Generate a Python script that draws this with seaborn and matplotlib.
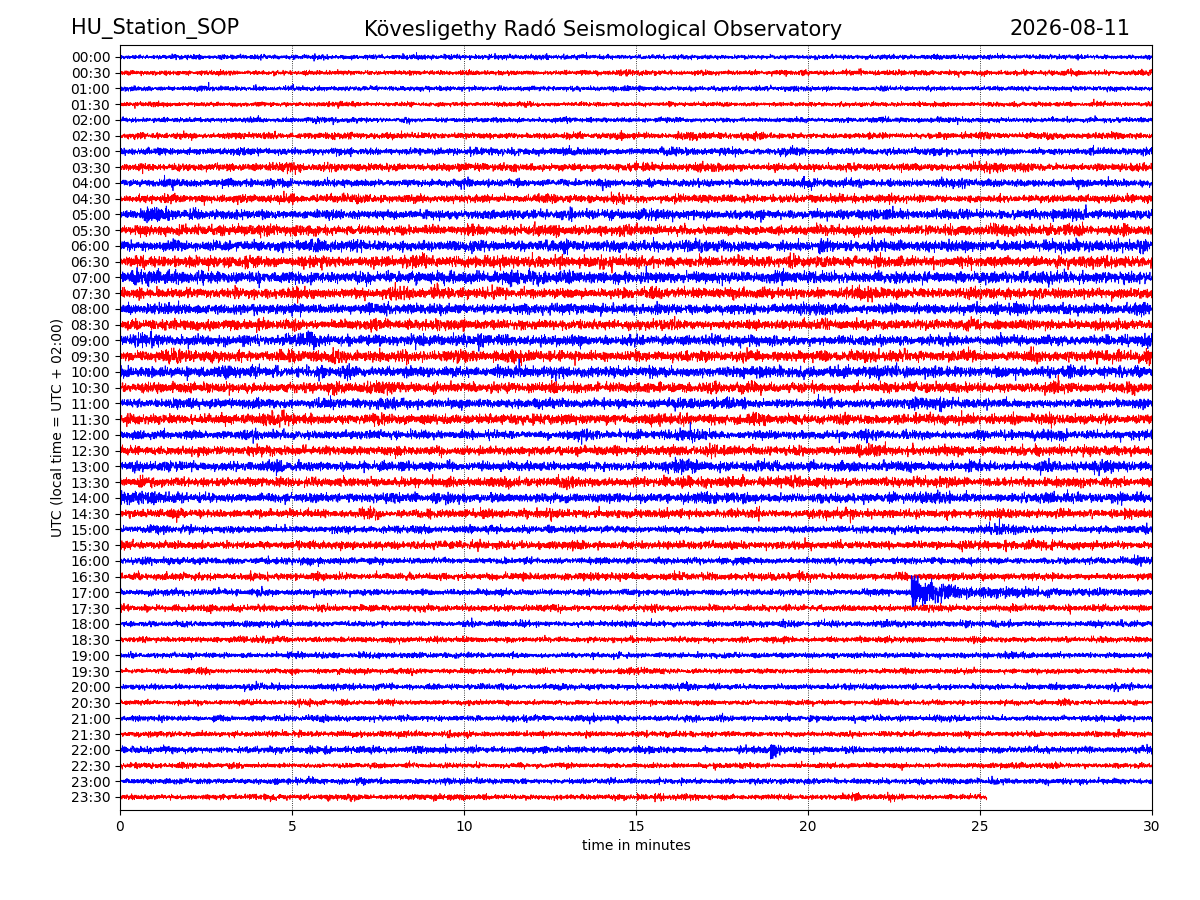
import numpy as np
import pandas as pd
import matplotlib
matplotlib.use("Agg")
import matplotlib.pyplot as plt
import seaborn as sns

# half-hour rows of the helicorder, top to bottom
row_labels = ["%02d:%02d" % (h, m) for h in range(24) for m in (0, 30)]

# typical peak amplitude per row, in units of the row spacing
row_amp = [0.12, 0.12, 0.12, 0.11, 0.12, 0.15, 0.17, 0.19, 0.19, 0.21,
           0.24, 0.26, 0.28, 0.28, 0.30, 0.28, 0.27, 0.26, 0.27, 0.28,
           0.28, 0.26, 0.24, 0.26, 0.22, 0.24, 0.24, 0.24, 0.24, 0.22,
           0.18, 0.20, 0.16, 0.18, 0.16, 0.16, 0.15, 0.14, 0.14, 0.13,
           0.14, 0.13, 0.14, 0.14, 0.16, 0.13, 0.14, 0.14]

# bursts / events: row index, start minute, peak amplitude, decay (minutes)
burst_row = [34, 34, 34, 44, 6, 6, 26, 26, 12, 18, 14, 28, 19, 30, 47, 10]
burst_start = [23.0, 23.0, 23.0, 18.9, 16.0, 23.4, 16.1, 26.7, 20.3, 10.4, 0.3, 0.0, 29.6, 29.7, 22.3, 0.7]
burst_amp = [1.6, 0.8, 0.4, 0.7, 0.2, 0.22, 0.3, 0.3, 0.35, 0.35, 0.35, 0.35, 0.4, 0.3, 0.2, 0.3]
burst_decay = [0.05, 0.5, 2.5, 0.15, 0.4, 0.4, 0.5, 0.4, 0.2, 0.2, 0.8, 0.8, 0.3, 0.2, 0.2, 0.5]

last_row_end = 25.2  # minutes recorded in the final row
row_colors = ["#0000ff", "#ff0000"]

n_pts = 6000
minutes = np.linspace(0, 30, n_pts)
rng = np.random.default_rng(11)  # texture of the wiggles only

frames = []
for i, label in enumerate(row_labels):
    carrier = rng.standard_normal(n_pts)
    slow = np.convolve(rng.standard_normal(n_pts), np.ones(120) / 120, mode="same")
    env = row_amp[i] / 1.9 * (0.8 + 3.0 * np.abs(slow))
    for r, s, a, d in zip(burst_row, burst_start, burst_amp, burst_decay):
        if r == i:
            t = minutes - s
            env = env + np.where(t >= 0, a / 2.5 * np.exp(-np.clip(t, 0, None) / d), 0)
    trace = np.clip(carrier * env, -1.05, 1.05)
    m = minutes
    if i == len(row_labels) - 1:
        keep = minutes <= last_row_end
        m = minutes[keep]
        trace = trace[keep]
    frames.append(pd.DataFrame({"minute": m, "y": i - trace, "row": i}))

df = pd.concat(frames, ignore_index=True)

sns.set_style("ticks", {"axes.edgecolor": "black", "xtick.color": "black",
                        "ytick.color": "black", "text.color": "black",
                        "axes.labelcolor": "black"})
plt.rcParams["font.family"] = ["DejaVu Sans"]

fig = plt.figure(figsize=(12, 9), dpi=100)
ax = fig.add_axes([0.1, 0.1, 0.86, 0.85])

palette = [row_colors[i % 2] for i in range(len(row_labels))]
sns.lineplot(data=df, x="minute", y="y", hue="row", palette=palette, legend=False,
             estimator=None, sort=False, lw=0.6, ax=ax)

ax.set_xlim(0, 30)
ax.set_ylim(47.826, -0.762)
ax.set_xticks([0, 5, 10, 15, 20, 25, 30])
ax.set_yticks(range(len(row_labels)))
ax.set_yticklabels(row_labels)
ax.tick_params(labelsize=10)
ax.grid(axis="x", ls=":", color="black", lw=0.6)
ax.set_xlabel("time in minutes", fontsize=10)
ax.set_ylabel("UTC (local time = UTC + 02:00)", fontsize=10)

fig.text(0.059, 0.968, "HU_Station_SOP", fontsize=15, ha="left", va="center")
fig.text(0.503, 0.968, "Kövesligethy Radó Seismological Observatory", fontsize=15,
         ha="center", va="center")
fig.text(0.942, 0.968, "2026-08-11", fontsize=15, ha="right", va="center")

fig.savefig("out.png", dpi=100)
